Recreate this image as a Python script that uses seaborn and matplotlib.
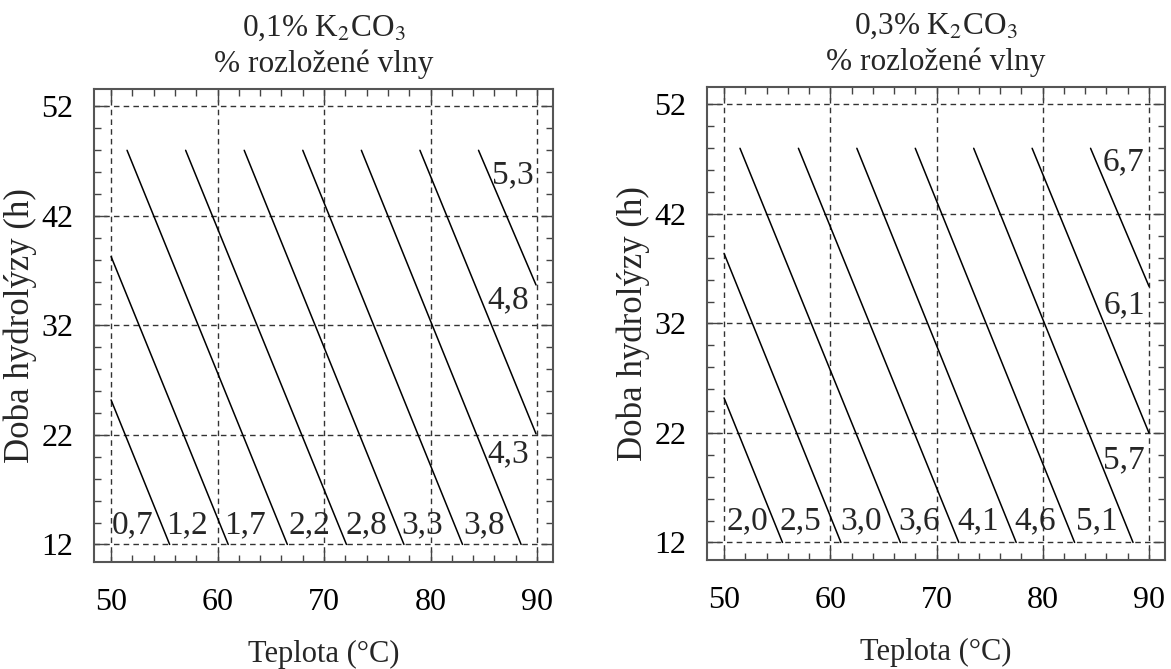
import numpy as np
import pandas as pd
import seaborn as sns
import matplotlib
matplotlib.use("Agg")
import matplotlib.pyplot as plt
from matplotlib.ticker import MultipleLocator

# contour segments (start T, start h) -> (end T, end h)
left_T0 = [50.0, 50.0, 51.5, 57.0, 62.5, 68.0, 73.5, 79.0, 84.5]
left_h0 = [25.2, 38.3, 48.0, 48.0, 48.0, 48.0, 48.0, 48.0, 48.0]
left_T1 = [55.5, 61.0, 66.55, 72.1, 77.5, 83.0, 88.5, 89.9, 89.9]
left_h1 = [12.0, 12.0, 12.0, 12.0, 12.0, 12.0, 12.0, 22.1, 35.7]

right_T0 = [50.0, 50.0, 51.5, 57.0, 62.5, 68.0, 73.5, 79.0, 84.5]
right_h0 = [25.2, 38.4, 48.0, 48.0, 48.0, 48.0, 48.0, 48.0, 48.0]
right_T1 = [55.5, 61.0, 66.6, 72.1, 77.5, 83.0, 88.5, 90.0, 90.0]
right_h1 = [12.0, 12.0, 12.0, 12.0, 12.0, 12.0, 12.0, 22.0, 35.4]

left_labels = ["0,7", "1,2", "1,7", "2,2", "2,8", "3,3", "3,8", "4,3", "4,8", "5,3"]
left_lab_T = [52.0, 57.1, 62.6, 68.6, 74.0, 79.2, 85.0, 87.3, 87.3, 87.7]
left_lab_h = [13.8, 13.8, 13.8, 13.8, 13.8, 13.8, 13.8, 20.3, 34.3, 45.7]

right_labels = ["2,0", "2,5", "3,0", "3,6", "4,1", "4,6", "5,1", "5,7", "6,1", "6,7"]
right_lab_T = [52.2, 57.2, 62.9, 68.4, 73.9, 79.3, 85.1, 87.6, 87.7, 87.6]
right_lab_h = [14.0, 14.0, 14.0, 14.0, 14.0, 14.0, 14.0, 19.5, 33.7, 46.7]

titles = ["0,1% K$_2$CO$_3$\n% rozložené vlny", "0,3% K$_2$CO$_3$\n% rozložené vlny"]
x_ticks = [50, 60, 70, 80, 90]
y_ticks = [12, 22, 32, 42, 52]

sns.set_theme(style="ticks")
plt.rcParams['font.family'] = ['Liberation Serif', 'DejaVu Serif']
plt.rcParams['mathtext.fontset'] = 'stix'


def make_df(T0, h0, T1, h1):
    rows = []
    for i in range(len(T0)):
        rows.append({"T": T0[i], "h": h0[i], "line": i})
        rows.append({"T": T1[i], "h": h1[i], "line": i})
    return pd.DataFrame(rows)


fig = plt.figure(figsize=(11.71, 6.69), dpi=100)
ax1 = fig.add_axes([0.0803, 0.160, 0.392, 0.707])
ax2 = fig.add_axes([0.6038, 0.163, 0.391, 0.707])

panels = [
    (ax1, make_df(left_T0, left_h0, left_T1, left_h1), left_labels, left_lab_T, left_lab_h, titles[0]),
    (ax2, make_df(right_T0, right_h0, right_T1, right_h1), right_labels, right_lab_T, right_lab_h, titles[1]),
]

for ax, df, labs, lt, lh, title in panels:
    sns.lineplot(data=df, x="T", y="h", units="line", estimator=None, sort=False,
                 color="black", linewidth=1.1, ax=ax, zorder=3)
    for s, tx, ty in zip(labs, lt, lh):
        ax.text(tx, ty, s, fontsize=24, ha="center", va="center", zorder=4)

    ax.set_xlim(48.4, 91.5)
    ax.set_ylim(10.4, 53.6)
    ax.set_xticks(x_ticks)
    ax.set_yticks(y_ticks)
    ax.xaxis.set_minor_locator(MultipleLocator(2))
    ax.yaxis.set_minor_locator(MultipleLocator(2))
    ax.tick_params(which="both", direction="in", top=True, right=True,
                   colors="#444444", labelcolor="black", labelsize=23)
    ax.tick_params(which="major", length=9, width=1.0)
    ax.tick_params(which="minor", length=5, width=1.0)
    ax.tick_params(axis="x", which="major", pad=19)
    ax.tick_params(axis="y", which="major", pad=15)
    ax.grid(True, which="major", linestyle=(0, (4, 3)), color="#333333", linewidth=1.0)
    for sp in ax.spines.values():
        sp.set_color("#555555")
        sp.set_linewidth(1.5)
    ax.set_xlabel("Teplota (°C)", fontsize=22, labelpad=16)
    ax.set_ylabel("Doba hydrolýzy (h)", fontsize=25, labelpad=3)
    ax.set_title(title, fontsize=22.5, linespacing=1.3, pad=12)

fig.savefig("out.png", dpi=100)
